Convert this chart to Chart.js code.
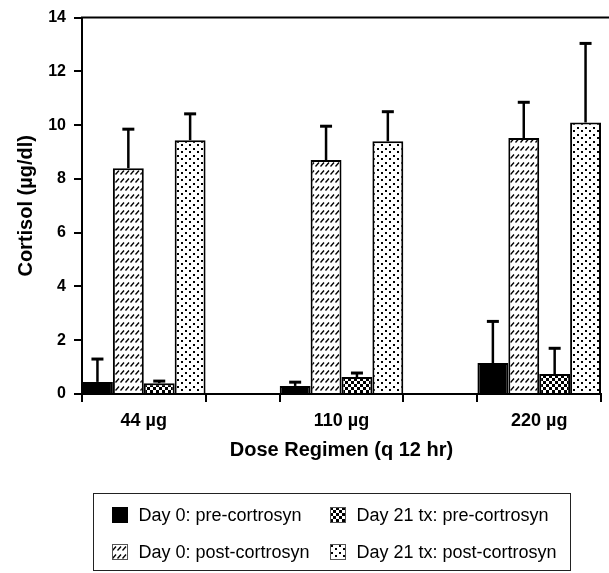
<!DOCTYPE html>
<html><head><meta charset="utf-8">
<script src="https://cdn.jsdelivr.net/npm/chart.js@4/dist/chart.umd.min.js"></script>
<style>
html,body{margin:0;padding:0;background:#fff;}
#wrap{position:relative;width:609px;height:573px;overflow:hidden;background:#fff;}
#c{position:absolute;left:0;top:0;}
#legend{position:absolute;left:93px;top:493px;width:478px;height:78px;border:1.5px solid #222;box-sizing:border-box;font-family:"Liberation Sans",Arial,sans-serif;font-size:18px;color:#000;}
.item{position:absolute;display:flex;align-items:center;height:20px;white-space:nowrap;}
.item canvas{width:16px;height:16px;margin-right:11px;display:block;}
</style></head><body>
<div id="wrap"><canvas id="c" width="609" height="573"></canvas><div id="legend"></div></div>
<script>
// ---- data ----
const categories = ['44 µg', '110 µg', '220 µg'];
const seriesNames = ['Day 0: pre-cortrosyn', 'Day 0: post-cortrosyn', 'Day 21 tx: pre-cortrosyn', 'Day 21 tx: post-cortrosyn'];
const day0Pre    = [0.45, 0.30, 1.15];
const day0Post   = [8.40, 8.70, 9.52];
const day21Pre   = [0.40, 0.63, 0.74];
const day21Post  = [9.44, 9.40, 10.10];
const day0PreSD   = [0.85, 0.14, 1.55];
const day0PostSD  = [1.45, 1.26, 1.33];
const day21PreSD  = [0.08, 0.15, 0.96];
const day21PostSD = [0.98, 1.10, 2.94];
const yTicks = [0, 2, 4, 6, 8, 10, 12, 14];
const legendOrder = [0, 2, 1, 3];

// ---- patterns ----
const canvas = document.getElementById('c');
const mainCtx = canvas.getContext('2d');
function tile(kind){
  const t = document.createElement('canvas');
  const g = t.getContext('2d');
  if (kind === 'hatch') {
    t.width = 5; t.height = 8;
    g.fillStyle = '#fff'; g.fillRect(0,0,5,8);
    g.strokeStyle = '#000'; g.lineWidth = 1.4;
    g.beginPath(); g.moveTo(0.5,6.5); g.lineTo(4,2.5); g.stroke();
  } else if (kind === 'checker') {
    t.width = 6; t.height = 6;
    g.fillStyle = '#fff'; g.fillRect(0,0,6,6);
    g.fillStyle = '#000'; g.fillRect(0,0,3,3); g.fillRect(3,3,3,3);
  } else if (kind === 'dots') {
    t.width = 8; t.height = 7;
    g.fillStyle = '#fff'; g.fillRect(0,0,8,7);
    g.fillStyle = '#000'; g.fillRect(1,1,2,2); g.fillRect(5,4,2,2);
  }
  return t;
}
const kinds = ['solid', 'hatch', 'checker', 'dots'];
function fillFor(kind, ctx){
  if (kind === 'solid') return '#000';
  return ctx.createPattern(tile(kind), 'repeat');
}

const values = [day0Pre, day0Post, day21Pre, day21Post];
const errs = [day0PreSD, day0PostSD, day21PreSD, day21PostSD];

const half = 0.3125;               // half of a group's width, in category units
const groupFrac = 2 * half;        // group width / category spacing
// Chart.js' bar ruler uses the smallest tick gap (= half), so scale the percentage
const catPct = groupFrac / half;

const datasets = seriesNames.map((name, i) => ({
  label: name,
  data: values[i].map((v, j) => ({x: j, y: v})),
  errors: errs[i],
  backgroundColor: fillFor(kinds[i], mainCtx),
  borderColor: '#000',
  borderWidth: 2,
  categoryPercentage: catPct,
  barPercentage: 1.0
}));

const xTickValues = [];
categories.forEach((c, j) => { xTickValues.push(j - half, j, j + half); });

const errorBars = {
  id: 'errorBars',
  afterDatasetsDraw(chart){
    const ctx = chart.ctx, ys = chart.scales.y;
    chart.data.datasets.forEach((ds, i) => {
      const meta = chart.getDatasetMeta(i);
      meta.data.forEach((bar, j) => {
        const v = ds.data[j].y, e = ds.errors[j];
        const y0 = bar.y, y1 = ys.getPixelForValue(v + e);
        ctx.save();
        ctx.strokeStyle = '#000';
        ctx.lineWidth = 2.5;
        ctx.beginPath(); ctx.moveTo(bar.x, y0); ctx.lineTo(bar.x, y1); ctx.stroke();
        ctx.lineWidth = 3;
        ctx.beginPath(); ctx.moveTo(bar.x - 6, y1); ctx.lineTo(bar.x + 6, y1); ctx.stroke();
        ctx.restore();
      });
    });
  }
};
const topLine = {
  id: 'topLine',
  afterDraw(chart){
    const ctx = chart.ctx, a = chart.chartArea;
    ctx.save(); ctx.strokeStyle = '#000'; ctx.lineWidth = 2;
    ctx.beginPath(); ctx.moveTo(a.left - 1, a.top); ctx.lineTo(chart.width, a.top); ctx.stroke();
    ctx.restore();
  }
};

Chart.defaults.font.family = '"Liberation Sans", Arial, sans-serif';
Chart.defaults.color = '#000';

new Chart(canvas, {
  type: 'bar',
  data: { datasets },
  options: {
    responsive: false,
    devicePixelRatio: 1,
    animation: false,
    layout: { padding: { top: 15, right: 5, bottom: 109, left: 0 } },
    plugins: { legend: { display: false }, tooltip: { enabled: false } },
    scales: {
      x: {
        type: 'linear',
        offset: false,
        min: -half,
        max: categories.length - 1 + half,
        afterBuildTicks: s => { s.ticks = xTickValues.map(v => ({value: v})); },
        afterFit: s => { s.height = 70; },
        ticks: {
          autoSkip: false, maxRotation: 0, padding: 8,
          font: { size: 18, weight: 'bold' },
          callback: v => Number.isInteger(v) ? categories[v] : ''
        },
        grid: {
          offset: false,
          drawOnChartArea: false, tickLength: 8, lineWidth: 2,
          color: c => (c.tick && Number.isInteger(c.tick.value)) ? 'rgba(0,0,0,0)' : '#000'
        },
        border: { color: '#000', width: 2 },
        title: { display: true, text: 'Dose Regimen (q 12 hr)', font: { size: 20, weight: 'bold' }, padding: { top: 0, bottom: 2 } }
      },
      y: {
        min: 0, max: 14,
        afterBuildTicks: s => { s.ticks = yTicks.map(v => ({value: v})); },
        afterFit: s => { s.width = 82; },
        ticks: { padding: 8, font: { size: 16, weight: 'bold' } },
        grid: { drawOnChartArea: false, tickLength: 8, lineWidth: 2, color: '#000' },
        border: { color: '#000', width: 2 },
        title: { display: true, text: 'Cortisol (µg/dl)', font: { size: 20, weight: 'bold' }, padding: { top: 14, bottom: 0 } }
      }
    }
  },
  plugins: [errorBars, topLine]
});

// ---- HTML legend ----
const legend = document.getElementById('legend');
const pos = [[17.5, 11], [235.5, 11], [17.5, 48], [235.5, 48]];
legendOrder.forEach((di, k) => {
  const item = document.createElement('div');
  item.className = 'item';
  item.style.left = pos[k][0] + 'px';
  item.style.top = pos[k][1] + 'px';
  const sw = document.createElement('canvas');
  sw.width = 16; sw.height = 16;
  const g = sw.getContext('2d');
  g.fillStyle = fillFor(kinds[di], g);
  g.fillRect(0, 0, 16, 16);
  if (kinds[di] !== 'solid') { g.strokeStyle = '#555'; g.lineWidth = 1; g.strokeRect(0.5, 0.5, 15, 15); }
  const tx = document.createElement('span');
  tx.textContent = seriesNames[di];
  item.appendChild(sw); item.appendChild(tx);
  legend.appendChild(item);
});
</script>
</body></html>
